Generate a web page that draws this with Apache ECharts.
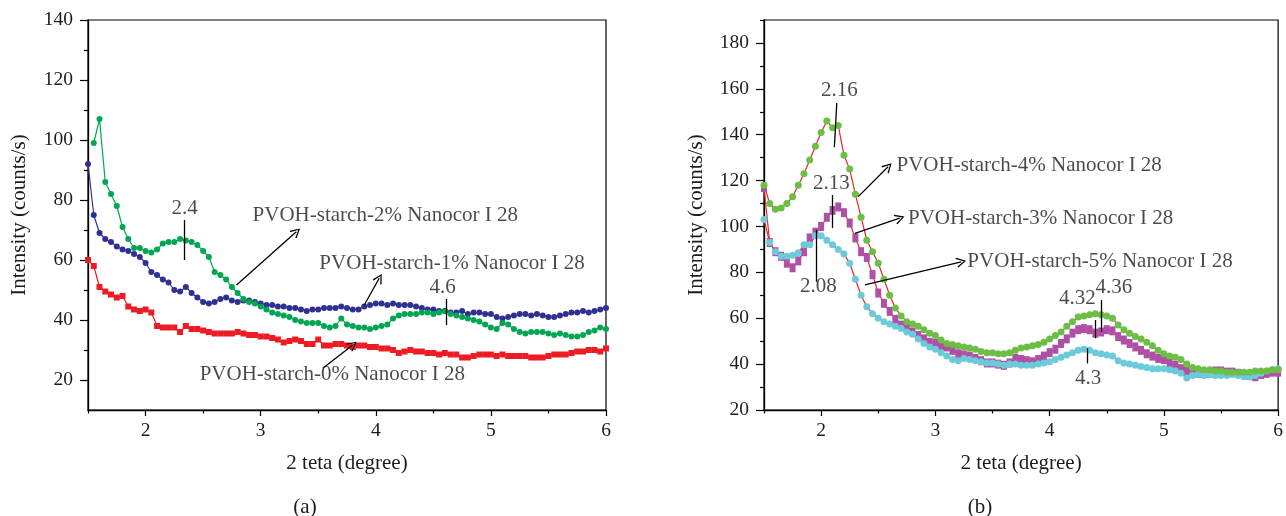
<!DOCTYPE html>
<html><head><meta charset="utf-8">
<script src="https://cdn.jsdelivr.net/npm/echarts@6/dist/echarts.min.js"></script>
<style>html,body{margin:0;padding:0;background:#fff}#c{width:1286px;height:516px}</style>
</head><body><div id="c"></div>
<script>
// 2θ sampling grid (degrees)
const twoTheta = [
1.50,1.55,1.60,1.65,1.70,1.75,1.80,1.85,1.90,1.95,
2.00,2.05,2.10,2.15,2.20,2.25,2.30,2.35,2.40,2.45,
2.50,2.55,2.60,2.65,2.70,2.75,2.80,2.85,2.90,2.95,
3.00,3.05,3.10,3.15,3.20,3.25,3.30,3.35,3.40,3.45,
3.50,3.55,3.60,3.65,3.70,3.75,3.80,3.85,3.90,3.95,
4.00,4.05,4.10,4.15,4.20,4.25,4.30,4.35,4.40,4.45,
4.50,4.55,4.60,4.65,4.70,4.75,4.80,4.85,4.90,4.95,
5.00,5.05,5.10,5.15,5.20,5.25,5.30,5.35,5.40,5.45,
5.50,5.55,5.60,5.65,5.70,5.75,5.80,5.85,5.90,5.95,
6.00];

// Panel (a)
const pvoh0 = [
60,58,51,49.5,48.5,47.5,48,44.5,43.5,43,
43.5,42.5,38,37.5,37.5,37.5,36,38,37,37,
36.5,36,35.5,35.5,35.5,35.5,36,35.5,35,35,
34.5,34.5,34,33.5,32.5,33,33.5,33,32,32,
33.5,31.5,31.5,32,32,31.5,31,31.5,31.5,31,
31,30.5,30.5,30,29,29.5,30,29.5,29.5,29,
29,28.5,29,28.5,28.5,27.5,27.5,28,28.5,28.5,
28.5,28,28.5,28,28,28,28,27.5,27.5,27.5,
28,28.5,28.5,28.5,29,29.5,29.5,30,30,29.5,
30.5];
const pvoh1 = [
92,75,69,67,66,64.5,63.5,63,62,61,
59,56,55,53.5,52.5,50,49.5,51,49,47.5,
46,45.5,46,47,47.5,46.5,46,46.5,46.5,46,
45.5,45,45,44.5,44.5,44,44,43.5,43,43.5,
43.5,44,44,44,44.5,44,43.5,43.5,44.5,45,
45.5,45.5,45,45.5,45,45,45,44.5,44,43.5,
43.5,43,43,42.5,42.5,43,42,42.5,42.5,42,
42,41,40.5,41,41.5,42,42,41.5,42,41.5,
41,41,41.5,42,42.5,42.5,43,42.5,43,43.5,
44];
const pvoh2 = [
null,99,107,86,82,78,71,67,64,64,
63,62.5,63.5,65.5,66,66,67,66.5,66,65,
63,61,56,55,53.5,51,49,47,46,45.5,
44.5,43.5,42.5,42,41.5,41,40,39.5,39,39,
39,38,37.5,38,40.5,38.5,38,37.5,37.5,37,
37.5,38,38.5,40.5,41.5,42,42,42,42.5,42.5,
42,42.5,43,42,41.5,41,40.5,40,39.5,38.5,
37.5,37,39,38.5,37,36,35.5,36,36,36,
35.5,35,35.5,35,34.5,34.5,35,36,36.5,37.5,
37];

// Panel (b)
const pvoh3 = [
117,93,89,87,84,82,85,89,95,97.5,
100,104,107,108.5,106,101.5,95,89,86.5,79,
71,66.5,63,59.5,57,55.5,54,52.5,51,49.5,
49,48,47.5,46,44.5,44,43.5,42.5,41.5,40.5,
40.5,40,39.5,40.5,42.5,42,41.5,41,42,43.5,
45,46.5,49,51,53.5,55,55.5,55,53.5,54,
55,54.5,52,50.5,49,47.5,46,44.5,43.5,42.5,
42,40.5,39.5,38,37,36.5,36,36,36,37,
37,36.5,36.5,36,35.5,35,34.5,35.5,36,36.5,
36.5];
const pvoh4 = [
118,110,107.5,108,110,113,118,123,129,135,
141,146,143,144,131,125,114,104,94,89,
84,77,70,64.5,61,58.5,57.5,56.5,55,53.5,
52.5,50.5,49,48.5,48,47.5,47,46.5,45.5,45,
45,44.5,44.5,45,46,47,47.5,48,48.5,49.5,
51,52.5,54,56.5,58.5,60.5,61,61.5,62,61.5,
61,60,57,55,53.5,52,51,49.5,48,46,
44.5,43.5,43,42,40,38.5,38,37.5,37.5,37,
37,36.5,36.5,36.5,36.5,36.5,37,37,37,37.5,
37.5];
const pvoh5 = [
103,93,89,87,87,87.5,88.5,92,92,96,
96,94,92,90,88,84,77,70,65,62,
60,58.5,57.5,56.5,55.5,54,53,51,49,47.5,
46.5,45,43.5,42,41.5,42.5,42,41.5,41,40.5,
40.5,40,39.5,40,40,39.5,39.5,39.5,40,40.5,
41,42,43,44,45,46,46.5,46,45,44.5,
44,43.5,41.5,40.5,40,39.5,39,38.5,38,38,
38,37.5,37,36,34,35,35.5,35,35.5,35,
35,35,35.5,35,34.5,34.5,35,36,37,37.5,
38];

// Tick values
const xMajor = [2,3,4,5,6];
const xMinor = [1.5,2.5,3.5,4.5,5.5];
const yMajorA = [20,40,60,80,100,120,140];
const yMinorA = [30,50,70,90,110,130];
const yMajorB = [20,40,60,80,100,120,140,160,180];
const yMinorB = [30,50,70,90,110,130,150,170,190];

// Annotations: [text, x, y, align]
const textsA = [
  ['2.4', 2.34, 77.3, 'c'],
  ['PVOH-starch-2% Nanocor I 28', 2.93, 75, 'l'],
  ['PVOH-starch-1% Nanocor I 28', 3.51, 59, 'l'],
  ['4.6', 4.58, 51, 'c'],
  ['PVOH-starch-0% Nanocor I 28', 2.47, 21.7, 'l']
];
// segments: [x1,y1,x2,y2,arrow]
const segsA = [
  [2.34, 73.3, 2.34, 60, 0],
  [2.79, 51.7, 3.31, 69.4, 1],
  [3.90, 45, 4.03, 53.9, 1],
  [4.61, 47, 4.61, 38.3, 0],
  [3.54, 23.9, 3.80, 31.7, 1]
];
const textsB = [
  ['2.16', 2.16, 159.2, 'c'],
  ['2.13', 2.09, 118.8, 'c'],
  ['2.08', 1.976, 73.8, 'c'],
  ['PVOH-starch-4% Nanocor I 28', 2.66, 126.8, 'l'],
  ['PVOH-starch-3% Nanocor I 28', 2.76, 103.6, 'l'],
  ['PVOH-starch-5% Nanocor I 28', 3.28, 84.6, 'l'],
  ['4.32', 4.243, 68.7, 'c'],
  ['4.36', 4.563, 73.5, 'c'],
  ['4.3', 4.336, 33.8, 'c']
];
const segsB = [
  [2.137, 153.8, 2.116, 134.6, 0],
  [2.10, 113.7, 2.10, 99.3, 0],
  [1.956, 98.5, 1.956, 75.9, 0],
  [2.325, 113, 2.586, 126, 1],
  [2.296, 97, 2.688, 103.6, 1],
  [2.383, 74.5, 3.226, 84.6, 1],
  [4.397, 59.2, 4.397, 51.3, 0],
  [4.455, 68, 4.455, 54.1, 0],
  [4.325, 46.9, 4.325, 40.3, 0]
];

const FONT = 'Liberation Serif';
const TXT = '#1e1b1c';
const pairs = arr => twoTheta.map((x, i) => [x, arr[i]]).filter(p => p[1] != null);
const ARROW = 'path://M0,9 L5,0 L10,9 L9,10 L5,2.4 L1,10 Z';

function majorX(gi, name) {
  return {
    gridIndex: gi, type: 'value', min: 1.5, max: 6, position: 'bottom',
    axisLine: { show: true, onZero: false, lineStyle: { color: '#000', width: 1.3 } },
    axisTick: { show: true, customValues: xMajor, length: 6, lineStyle: { color: '#000', width: 1.2 } },
    axisLabel: { customValues: xMajor, margin: 11, fontFamily: FONT, fontSize: 19.5, color: TXT },
    splitLine: { show: false },
    name: name, nameLocation: 'middle', nameGap: 43,
    nameTextStyle: { fontFamily: FONT, fontSize: 21, color: TXT }
  };
}
function minorX(gi) {
  return {
    gridIndex: gi, type: 'value', min: 1.5, max: 6, position: 'bottom',
    axisLine: { show: false, onZero: false },
    axisTick: { show: true, customValues: xMinor, length: 3.5, lineStyle: { color: '#000', width: 1.2 } },
    axisLabel: { show: false }, splitLine: { show: false }
  };
}
function majorY(gi, min, max, ticks, gap) {
  return {
    gridIndex: gi, type: 'value', min: min, max: max, position: 'left',
    axisLine: { show: true, onZero: false, lineStyle: { color: '#000', width: 1.3 } },
    axisTick: { show: true, customValues: ticks, length: 8, lineStyle: { color: '#000', width: 1.2 } },
    axisLabel: { customValues: ticks, margin: 15, fontFamily: FONT, fontSize: 19.5, color: TXT },
    splitLine: { show: false },
    name: 'Intensity (counts/s)', nameLocation: 'middle', nameGap: gap,
    nameTextStyle: { fontFamily: FONT, fontSize: 21, color: TXT }
  };
}
function minorY(gi, min, max, ticks) {
  return {
    gridIndex: gi, type: 'value', min: min, max: max, position: 'left',
    axisLine: { show: false, onZero: false },
    axisTick: { show: true, customValues: ticks, length: 4, lineStyle: { color: '#000', width: 1.2 } },
    axisLabel: { show: false }, splitLine: { show: false }
  };
}
function dataSeries(name, arr, xi, yi, color, lineColor, symbol, size) {
  return {
    name: name, type: 'line', xAxisIndex: xi, yAxisIndex: yi,
    data: pairs(arr), symbol: symbol, symbolSize: size, showSymbol: true,
    itemStyle: { color: color }, lineStyle: { color: lineColor, width: 1.2 },
    silent: true, animation: false
  };
}
function annot(texts, segs, xi, yi) {
  return {
    type: 'scatter', xAxisIndex: xi, yAxisIndex: yi, symbolSize: 0, silent: true, z: 10,
    data: texts.map(t => ({
      value: [t[1], t[2]], name: t[0],
      label: t[3] === 'c'
        ? { show: true, position: 'inside', formatter: '{b}' }
        : { show: true, position: 'right', distance: 0, formatter: '{b}' }
    })),
    label: { fontFamily: FONT, fontSize: 21, color: TXT },
    markLine: {
      silent: true, animation: false, symbol: ['none', 'none'],
      label: { show: false },
      lineStyle: { color: '#000', width: 1.3, type: 'solid' },
      emphasis: { disabled: true },
      data: segs.map(s => [
        { coord: [s[0], s[1]], symbol: 'none' },
        { coord: [s[2], s[3]], symbol: s[4] ? ARROW : 'none', symbolSize: [10, 10] }
      ])
    }
  };
}

const chart = echarts.init(document.getElementById('c'));
chart.setOption({
  animation: false,
  backgroundColor: '#fff',
  grid: [
    { left: 88, width: 518, top: 20, height: 390, show: true, borderColor: '#000', borderWidth: 1.2, containLabel: false },
    { left: 764, width: 516, top: 20, height: 390, show: true, borderColor: '#000', borderWidth: 1.2, containLabel: false }
  ],
  xAxis: [majorX(0, '2 teta (degree)'), minorX(0), majorX(1, '2 teta (degree)'), minorX(1)],
  yAxis: [majorY(0, 10, 140, yMajorA, 58), minorY(0, 10, 140, yMinorA),
          majorY(1, 20, 190, yMajorB, 57), minorY(1, 20, 190, yMinorB)],
  series: [
    dataSeries('PVOH-starch-0% Nanocor I 28', pvoh0, 0, 0, '#ed1c24', '#ed1c24', 'rect', 6),
    dataSeries('PVOH-starch-1% Nanocor I 28', pvoh1, 0, 0, '#2e3192', '#2e3192', 'circle', 6),
    dataSeries('PVOH-starch-2% Nanocor I 28', pvoh2, 0, 0, '#00a651', '#00a651', 'circle', 6),
    dataSeries('PVOH-starch-3% Nanocor I 28', pvoh3, 2, 2, '#b04fa6', '#e8262a', 'rect', [6, 9]),
    dataSeries('PVOH-starch-5% Nanocor I 28', pvoh5, 2, 2, '#6ccbd9', '#e8262a', 'circle', 7),
    dataSeries('PVOH-starch-4% Nanocor I 28', pvoh4, 2, 2, '#6cbe45', '#e8262a', 'circle', 7),
    annot(textsA, segsA, 0, 0),
    annot(textsB, segsB, 2, 2)
  ],
  graphic: [
    { type: 'text', x: 305, y: 507, style: { text: '(a)', font: '21px "Liberation Serif"', fill: TXT, textAlign: 'center', textVerticalAlign: 'middle' } },
    { type: 'text', x: 980, y: 507, style: { text: '(b)', font: '21px "Liberation Serif"', fill: TXT, textAlign: 'center', textVerticalAlign: 'middle' } }
  ]
});
</script>
</body></html>
